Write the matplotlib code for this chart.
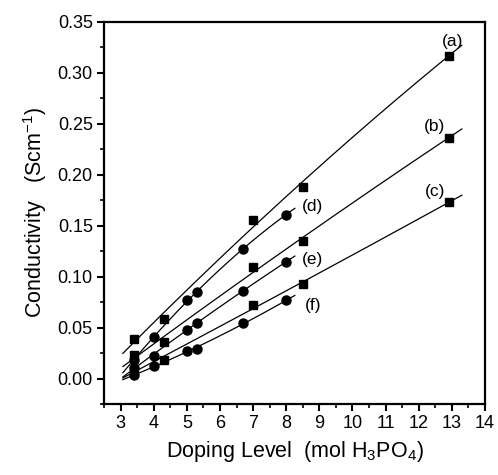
import numpy as np
import matplotlib
matplotlib.use('Agg')
import matplotlib.pyplot as plt

plt.rcParams['font.family'] = ['Liberation Sans', 'DejaVu Sans']
plt.rcParams['mathtext.fontset'] = 'custom'
plt.rcParams['mathtext.rm'] = 'Liberation Sans'
plt.rcParams['mathtext.it'] = 'Liberation Sans:italic'

# Data
x_sq = [3.4, 4.3, 7.0, 8.5, 12.9]
x_ci = [3.4, 4.0, 5.0, 5.3, 6.7, 8.0]

a_vals = [0.0385, 0.0587, 0.156, 0.1885, 0.317]
b_vals = [0.0228, 0.0355, 0.1096, 0.1353, 0.2365]
c_vals = [0.008, 0.0186, 0.0717, 0.093, 0.1729]
d_vals = [0.0186, 0.0404, 0.0766, 0.0845, 0.1275, 0.161]
e_vals = [0.0104, 0.0225, 0.048, 0.0545, 0.0864, 0.1145]
f_vals = [0.003, 0.012, 0.027, 0.0294, 0.0541, 0.0766]

sq_series = [('(a)', a_vals, (13.02, 0.331)),
             ('(b)', b_vals, (12.49, 0.247)),
             ('(c)', c_vals, (12.49, 0.1835))]
ci_series = [('(d)', d_vals, (8.78, 0.1685)),
             ('(e)', e_vals, (8.78, 0.117)),
             ('(f)', f_vals, (8.82, 0.072))]

fig = plt.figure(figsize=(4.98, 4.75), dpi=100)
ax = fig.add_axes([0.2088, 0.1495, 0.7651, 0.8042])

for label, vals, pos in sq_series:
    coef = np.polyfit(x_sq, vals, 2)
    xf = np.linspace(3.07, 13.3, 200)
    ax.plot(xf, np.polyval(coef, xf), 'k-', lw=0.9)
    ax.plot(x_sq, vals, 'ks', ms=5.5)
    ax.text(pos[0], pos[1], label, fontsize=12.5, ha='center', va='center')

for label, vals, pos in ci_series:
    coef = np.polyfit(x_ci, vals, 2)
    xf = np.linspace(3.07, 8.26, 200)
    ax.plot(xf, np.polyval(coef, xf), 'k-', lw=0.9)
    ax.plot(x_ci, vals, 'ko', ms=6.5)
    ax.text(pos[0], pos[1], label, fontsize=12.5, ha='center', va='center')

ax.set_xlim(2.5, 14)
ax.set_ylim(-0.024, 0.35)
ax.set_xticks(np.arange(3, 15, 1))
ax.set_xticks(np.arange(2.5, 14.01, 0.5), minor=True)
ax.set_yticks(np.arange(0, 0.351, 0.05))
ax.set_yticks(np.arange(-0.025, 0.351, 0.025), minor=True)
ax.yaxis.set_major_formatter(matplotlib.ticker.FormatStrFormatter('%.2f'))

for sp in ax.spines.values():
    sp.set_linewidth(1.6)
ax.tick_params(which='major', direction='out', length=5, width=1.5, labelsize=13,
               top=False, right=False, pad=3)
ax.tick_params(which='minor', direction='out', length=3, width=1.2,
               top=False, right=False)

ax.set_xlabel('Doping Level  (mol H$_3$PO$_4$)', fontsize=15.5, labelpad=5)
ax.set_ylabel('Conductivity   (Scm$^{-1}$)', fontsize=15.5, labelpad=6)

fig.savefig('out.png', dpi=100)
